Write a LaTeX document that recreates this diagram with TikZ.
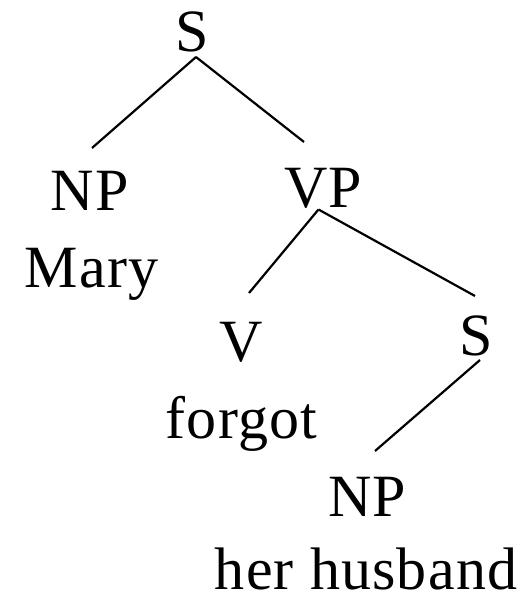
\documentclass[tikz,border=0pt]{standalone}
\usepackage{fontspec}
\setmainfont[LetterSpace=2]{Liberation Serif}
\begin{document}
\begin{tikzpicture}[x=1bp,y=-1bp,
  lab/.style={anchor=base,inner sep=0pt,font=\fontsize{60bp}{72bp}\selectfont},
  branch/.style={line width=2.2bp}]
\useasboundingbox (0,0) rectangle (526,593);
% category labels and words
\node[lab] (s1)   at (192.5,52)  {S};
\node[lab] (np1)  at (89.5,210)  {NP};
\node[lab] (mary) at (91.5,287)  {Mary};
\node[lab] (vp)   at (323,207)   {VP};
\node[lab] (v)    at (241,361)   {V};
\node[lab] (s2)   at (476,355)   {S};
\node[lab] (forgot) at (241.5,438) {forgot};
\node[lab] (np2)  at (367,516)   {NP};
\node[lab] (hh)   at (366,589)   {her husband};
% branch end points
\coordinate (s1b)  at (196,57);
\coordinate (np1t) at (92,148);
\coordinate (vpt)  at (304,142);
\coordinate (vpb)  at (318.5,209.5);
\coordinate (vt)   at (249,293);
\coordinate (s2t)  at (475,296);
\coordinate (s2b)  at (480,360);
\coordinate (np2t) at (375,451);
% branches
\draw[branch] (s1b) -- (np1t);
\draw[branch] (s1b) -- (vpt);
\draw[branch] (vpb) -- (vt);
\draw[branch] (vpb) -- (s2t);
\draw[branch] (s2b) -- (np2t);
\end{tikzpicture}
\end{document}
